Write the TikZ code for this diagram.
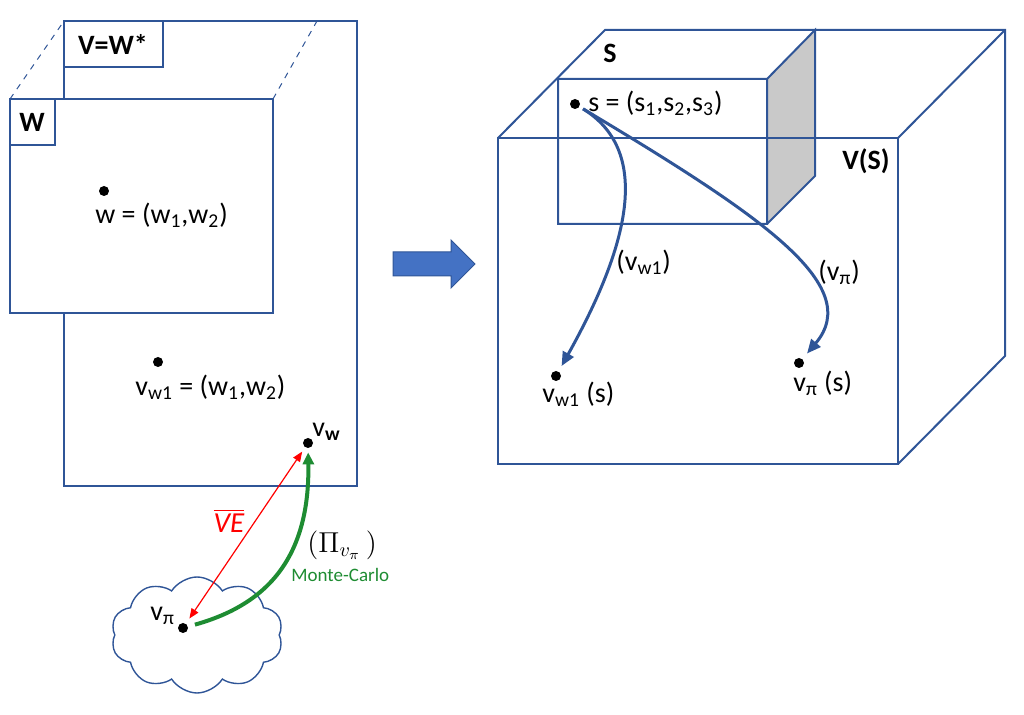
\documentclass[tikz,border=0pt]{standalone}
\usepackage{fontspec}
\setmainfont{Carlito}
\usetikzlibrary{arrows.meta,shapes.symbols}

\definecolor{frame}{RGB}{47,85,151}
\definecolor{bigarrow}{RGB}{68,114,196}
\definecolor{mcgreen}{RGB}{30,140,50}
\definecolor{side}{RGB}{201,201,201}
\tikzset{
  pnt/.style={circle,fill=black,inner sep=0pt,minimum size=5pt},
  lbl/.style={inner sep=0pt,anchor=west,font=\fontsize{14}{17}\selectfont},
  hd/.style={inner sep=0pt,font=\bfseries\fontsize{14}{16}\selectfont},
  box/.style={draw=frame,line width=1pt},
  flow/.style={frame,line width=1.5pt,-{Triangle[length=7pt,width=6pt]}}
}

\begin{document}
\begin{tikzpicture}[x=0.5pt,y=-0.5pt]
\useasboundingbox (0,0) rectangle (1024,715);

\draw[frame,dashed,line width=0.5pt] (10,99) -- (64,21) (273,99) -- (317,21);
\draw[box] (64,21) rectangle (357,486) (64,21) rectangle (163,67);
\draw[box,fill=white] (10,99) rectangle (273,313);
\draw[box] (10,99) rectangle (55,145);
\node[hd] (Vlab) at (113,44) {V=W*}; \node[hd] (Wlab) at (32,122) {W};

\node[pnt] (w) at (104,191) {}; \node[lbl] (wt) at (95,215) {w = (w\textsubscript{1},w\textsubscript{2})};
\node[pnt] (vw1) at (158,362) {}; \node[lbl] (vw1t) at (135,387) {v\textsubscript{w1} = (w\textsubscript{1},w\textsubscript{2})};
\node[pnt] (vw) at (308,443) {}; \node[lbl] (vwt) at (312,432) {v\textsubscript{\bfseries w}};

\node[cloud,draw=frame,line width=0.7pt,cloud puffs=10,cloud puff arc=115,aspect=1.5,minimum width=86pt,minimum height=58pt] (cl) at (197,635) {};
\node[pnt] (vpi) at (183,628) {}; \node[lbl] (vpit) at (150,616) {v\textsubscript{π}};

\draw[red,line width=0.6pt,{Triangle[length=5pt,width=4pt]}-{Triangle[length=5pt,width=4pt]},shorten <=3pt,shorten >=2.5pt] (vpi) -- (vw);
\node[red,inner sep=0pt,font=\fontsize{14.5}{17}\selectfont] (ve) at (229,521) {\ensuremath{\overline{\mbox{\itshape VE}}}};
\draw[mcgreen,line width=2pt,-{Triangle[length=6pt,width=5.5pt]},shorten <=3.5pt,shorten >=2pt] (vpi) .. controls (265,605) and (310,560) .. (vw);
\node[lbl] (pit) at (307,545) {$(\Pi_{v_\pi}\,)$};
\node[lbl,mcgreen,font=\fontsize{9.5}{11}\selectfont] (mc) at (291,575) {Monte-Carlo};

\fill[bigarrow,draw=frame,line width=0.5pt] (393,252) -- (451,252) -- (451,240) -- (475,264) -- (451,288) -- (451,276) -- (393,276) -- cycle;

\fill[side] (767,79) -- (815,30) -- (815,176) -- (767,224) -- cycle;
\draw[box] (498,138) rectangle (898,464);
\draw[box] (498,138) -- (605,30) -- (1005,30) -- (1005,356) -- (898,464) (898,138) -- (1005,30);
\draw[box] (558,79) rectangle (767,224) (767,79) -- (815,30) -- (815,176) -- (767,224);
\node[hd] (Slab) at (610,53) {S}; \node[hd] (VSlab) at (866,161) {V(S)};

\node[pnt] (s) at (575,104) {}; \node[lbl] (st) at (588,103) {s = (s\textsubscript{1},s\textsubscript{2},s\textsubscript{3})};
\node[pnt] (vw1s) at (556,376) {}; \node[lbl] (vw1st) at (542,394) {v\textsubscript{w1} (s)};
\node[pnt] (vpis) at (799,363) {}; \node[lbl] (vpist) at (793,383) {v\textsubscript{π} (s)};

\draw[flow,shorten <=2pt,shorten >=3pt] (s) .. controls (650,150) and (632,240) .. (vw1s);
\draw[flow,shorten <=2pt,shorten >=3.5pt] (s) .. controls (760,215) and (865,285) .. (vpis);
\node[lbl] (l1) at (616,262) {(v\textsubscript{w1})}; \node[lbl] (l2) at (818,272) {(v\textsubscript{π})};
\end{tikzpicture}
\end{document}
